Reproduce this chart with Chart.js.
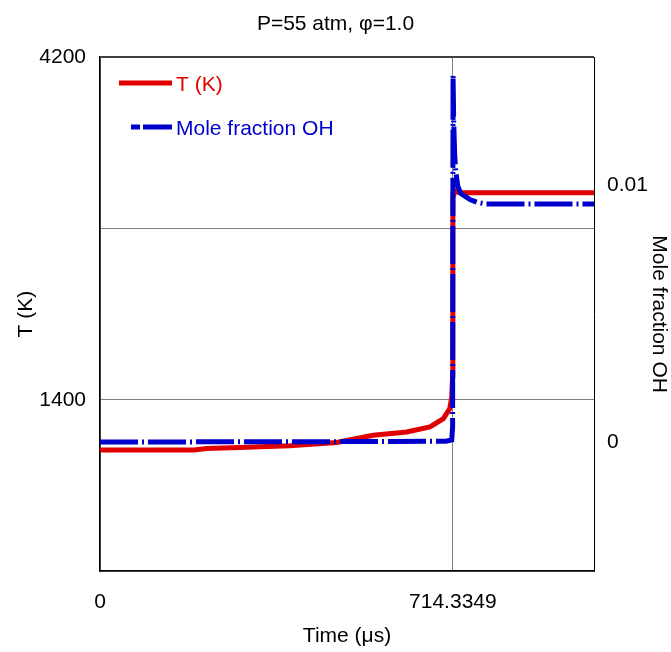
<!DOCTYPE html>
<html>
<head>
<meta charset="utf-8">
<script src="https://cdn.jsdelivr.net/npm/chart.js@4/dist/chart.umd.min.js"></script>
<style>
  body { margin: 0; background: #fff; }
  canvas { display: block; }
</style>
</head>
<body>
<canvas id="grafica" width="671" height="652"></canvas>
<script>
// temperatura (K) vs tiempo (us)
const timeT = [0, 100, 190, 216, 283, 384, 479, 553, 621, 668, 695, 708, 712, 713.8, 714.3, 714.6, 716, 720, 730, 1000];
const tempK = [990, 990, 990, 1001, 1010, 1023, 1050, 1110, 1137, 1178, 1246, 1328, 1420, 1600, 2800, 3080, 3115, 3100, 3092, 3092];

// fraccion molar de OH vs tiempo (us)
const timeOH = [0, 300, 600, 700, 712, 713.8, 714.2, 714.7, 716, 718, 720, 724, 730, 740, 750, 765, 780, 1000];
const ohFrac = [0.00002, 0.00003, 0.00004, 0.00005, 0.0001, 0.0006, 0.008, 0.0143, 0.0125, 0.0112, 0.0106, 0.0100, 0.0097, 0.00957, 0.00945, 0.00934, 0.00929, 0.00929];

const xTicks = [0, 714.3349];
const yTicks = [1400, 4200];
const y1Ticks = [0, 0.01];

const FONT = "'Liberation Sans', Arial, sans-serif";
const ROJO = '#e00000';
const AZUL = '#0000cc';
const DASH_OH = [38, 4, 2, 4];

const leyenda = {
    id: 'leyenda',
    afterDatasetsDraw(chart) {
        const ctx = chart.ctx;
        ctx.save();
        ctx.font = '21px ' + FONT;
        ctx.textBaseline = 'middle';
        ctx.lineWidth = 5;

        ctx.strokeStyle = ROJO;
        ctx.beginPath();
        ctx.moveTo(119, 83);
        ctx.lineTo(172, 83);
        ctx.stroke();
        ctx.fillStyle = ROJO;
        ctx.fillText('T (K)', 176, 85);

        ctx.strokeStyle = AZUL;
        ctx.beginPath();
        ctx.moveTo(131, 127);
        ctx.lineTo(140, 127);
        ctx.moveTo(143, 127);
        ctx.lineTo(172, 127);
        ctx.stroke();
        ctx.fillStyle = AZUL;
        ctx.fillText('Mole fraction OH', 176, 129);
        ctx.restore();
    }
};

new Chart(document.getElementById('grafica'), {
    type: 'line',
    data: {
        datasets: [
            {
                label: 'Mole fraction OH',
                data: timeOH.map((t, i) => ({ x: t, y: ohFrac[i] })),
                yAxisID: 'y1',
                borderColor: AZUL,
                borderWidth: 5,
                borderDash: DASH_OH,
                pointRadius: 0,
                tension: 0,
                order: 0
            },
            {
                label: 'T (K)',
                data: timeT.map((t, i) => ({ x: t, y: tempK[i] })),
                yAxisID: 'y',
                borderColor: ROJO,
                borderWidth: 5,
                pointRadius: 0,
                tension: 0,
                order: 1
            }
        ]
    },
    options: {
        responsive: false,
        animation: false,
        layout: { padding: 0 },
        plugins: {
            legend: { display: false },
            tooltip: { enabled: false },
            title: {
                display: true,
                text: 'P=55 atm, φ=1.0',
                color: '#000',
                font: { family: FONT, size: 21, weight: 'normal' },
                padding: { top: 12, bottom: 20 }
            }
        },
        scales: {
            x: {
                type: 'linear',
                min: 0,
                max: 1000,
                afterFit: (s) => { s.height = 81; },
                afterBuildTicks: (s) => { s.ticks = xTicks.map(v => ({ value: v })); },
                ticks: {
                    color: '#000',
                    font: { family: FONT, size: 21 },
                    padding: 19,
                    maxRotation: 0,
                    autoSkip: false,
                    callback: (v) => v === 0 ? '0' : '714.3349'
                },
                grid: { color: '#808080', lineWidth: 1, drawTicks: false },
                border: { color: '#000', width: 1.5 },
                title: {
                    display: true,
                    text: 'Time (μs)',
                    color: '#000',
                    font: { family: FONT, size: 21 },
                    padding: { top: 0, bottom: 3 }
                }
            },
            y: {
                position: 'left',
                min: 0,
                max: 4200,
                afterFit: (s) => { s.width = 100; },
                ticks: {
                    stepSize: 1400,
                    autoSkip: false,
                    color: '#000',
                    font: { family: FONT, size: 21 },
                    padding: 14,
                    callback: (v) => yTicks.includes(v) ? String(v) : ''
                },
                grid: {
                    drawTicks: false,
                    color: (c) => c.tick && c.tick.value === 4200 ? '#404040' : '#808080',
                    lineWidth: (c) => c.tick && c.tick.value === 4200 ? 2 : 1
                },
                border: { color: '#000', width: 1.5 },
                title: {
                    display: true,
                    text: 'T (K)',
                    color: '#000',
                    font: { family: FONT, size: 21 },
                    padding: { top: 14, bottom: 0 }
                }
            },
            y1: {
                position: 'right',
                min: -0.005,
                max: 0.015,
                afterFit: (s) => { s.width = 77; },
                afterBuildTicks: (s) => { s.ticks = y1Ticks.map(v => ({ value: v })); },
                ticks: {
                    autoSkip: false,
                    color: '#000',
                    font: { family: FONT, size: 21 },
                    padding: 13,
                    callback: (v) => v === 0 ? '0' : '0.01'
                },
                grid: { display: false, drawTicks: false },
                border: { color: '#000', width: 1 },
                title: {
                    display: true,
                    text: 'Mole fraction OH',
                    color: '#000',
                    font: { family: FONT, size: 21 },
                    padding: { top: 0, bottom: 0 }
                }
            }
        }
    },
    plugins: [leyenda]
});
</script>
</body>
</html>
